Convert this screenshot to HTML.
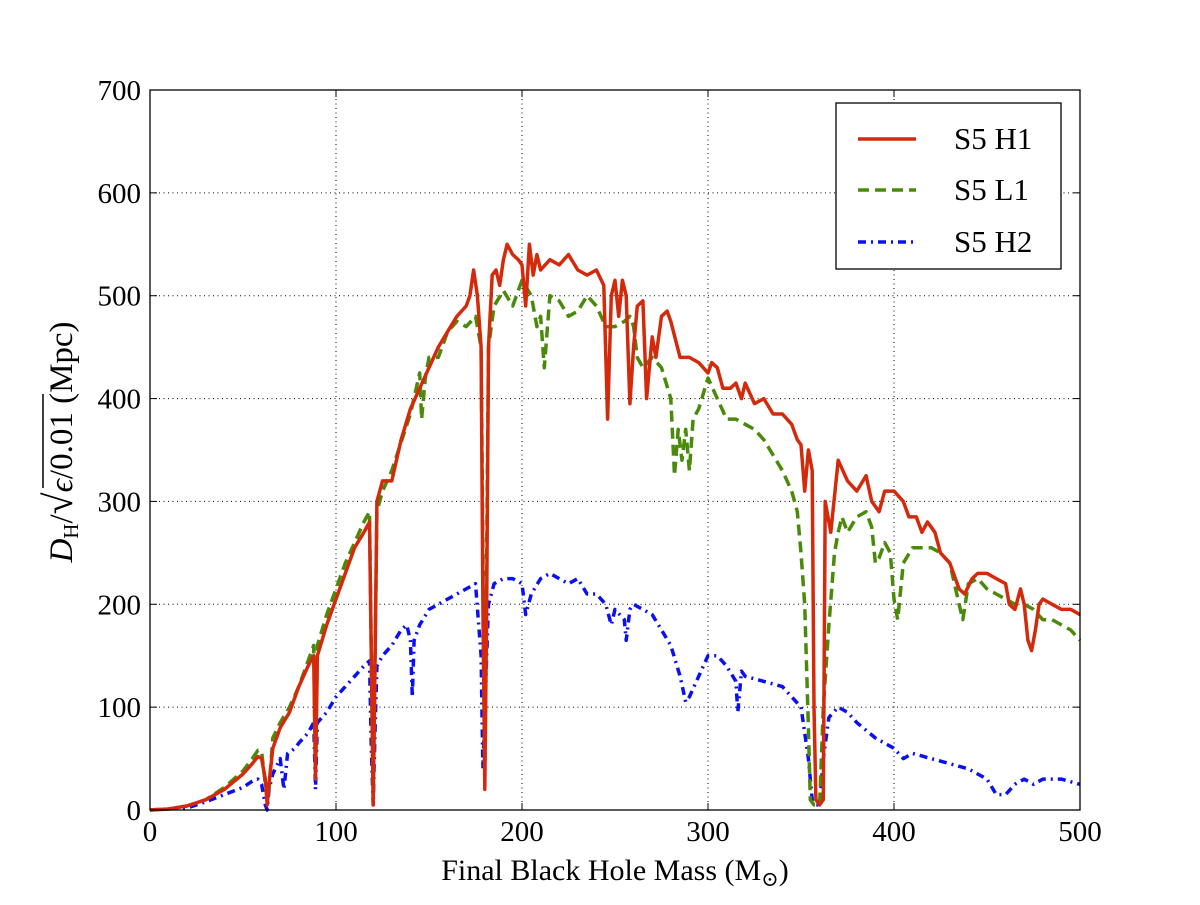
<!DOCTYPE html>
<html><head><meta charset="utf-8"><style>
html,body{margin:0;padding:0;background:#fff;}
svg text{font-family:"Liberation Serif","DejaVu Serif",serif;}
</style></head><body>
<svg id="s" width="1200" height="900" xmlns="http://www.w3.org/2000/svg">
<rect width="1200" height="900" fill="#fff"/>
<g id="grid" stroke="#000" stroke-width="1" stroke-dasharray="1,3.5"></g>
<g id="ticks" stroke="#000" stroke-width="1"></g>
<g id="lbl" font-size="29" fill="#000"></g>
<g id="series" fill="none"></g>
<rect x="150" y="90" width="930" height="720" fill="none" stroke="#000" stroke-width="1.3"/>
<g>
<rect x="836" y="103" width="225" height="166" fill="#fff" stroke="#000" stroke-width="1.3"/>
<line x1="858" y1="139" x2="916" y2="139" stroke="#d42a0c" stroke-width="3.5"/>
<line x1="858" y1="190" x2="916" y2="190" stroke="#4a8a0a" stroke-width="3.5" stroke-dasharray="11,6"/>
<line x1="858" y1="242" x2="916" y2="242" stroke="#0a10f0" stroke-width="3.5" stroke-dasharray="8,5,2,5"/>
<text x="954" y="149" font-size="31">S5 H1</text>
<text x="954" y="200" font-size="31">S5 L1</text>
<text x="954" y="252" font-size="31">S5 H2</text>
</g>
<text x="615" y="880" font-size="30" text-anchor="middle">Final Black Hole Mass (M<tspan font-size="21" dy="6">⊙</tspan><tspan dy="-6">)</tspan></text>
<g transform="translate(72,442) rotate(-90)">
<text id="yl" x="0" y="0" font-size="33" text-anchor="middle"><tspan font-style="italic">D</tspan><tspan font-size="21" dy="6">H</tspan><tspan dy="-6">/</tspan><tspan font-size="40">√</tspan><tspan font-style="italic">ϵ</tspan>/0.01 (Mpc)</text>
<line x1="-46" y1="-29" x2="48" y2="-29" stroke="#000" stroke-width="1.5"/>
</g>
</svg>
<script>
var NS="http://www.w3.org/2000/svg";
function X(m){return 150+1.86*m;} function Y(d){return 810-720/700*d;}
function el(p,t,a){var e=document.createElementNS(NS,t);for(var k in a)e.setAttribute(k,a[k]);p.appendChild(e);return e;}
var g=document.getElementById('grid'),tk=document.getElementById('ticks'),lb=document.getElementById('lbl');
for(var m=0;m<=500;m+=100){var x=X(m);if(m>0&&m<500)el(g,'line',{x1:x,y1:90,x2:x,y2:810});
el(tk,'line',{x1:x,y1:810,x2:x,y2:803});el(tk,'line',{x1:x,y1:90,x2:x,y2:97});
el(lb,'text',{x:x,y:841,'text-anchor':'middle'}).textContent=m;}
for(var d=0;d<=700;d+=100){var y=Y(d);if(d>0&&d<700)el(g,'line',{x1:150,y1:y,x2:1080,y2:y});
el(tk,'line',{x1:150,y1:y,x2:157,y2:y});el(tk,'line',{x1:1080,y1:y,x2:1073,y2:y});
el(lb,'text',{x:141,y:y+10,'text-anchor':'end'}).textContent=d;}
var H1=[0,0,10,1,20,4,30,10,40,20,50,35,55,45,58,52,60,50,62,30,63,5,64,25,66,60,70,80,75,95,80,120,85,140,88,150,89,30,90,150,95,180,100,205,105,230,110,255,115,270,118,280,119,150,120,5,121,150,122,300,125,320,130,320,135,360,140,390,145,410,150,430,155,450,160,465,165,480,170,490,172,500,174,525,176,500,178,450,179,200,180,20,181,200,182,450,184,520,186,525,188,510,190,535,192,550,195,540,198,535,200,530,202,490,204,550,206,520,208,540,210,525,215,535,220,530,225,540,230,525,235,520,240,525,244,510,246,380,248,500,250,515,252,480,254,515,256,500,258,395,260,450,262,490,265,495,267,400,270,460,272,440,275,480,278,485,280,475,285,440,290,440,295,435,300,425,302,435,305,430,308,410,312,410,315,415,318,400,320,415,325,395,330,400,335,385,340,385,345,375,348,360,350,355,352,310,354,350,356,330,357,100,358,10,360,5,362,10,363,300,366,270,370,340,375,320,380,310,385,325,388,300,392,290,395,310,400,310,405,300,408,285,412,285,415,270,418,280,422,270,425,250,430,240,435,215,438,210,442,225,445,230,450,230,455,225,460,220,462,200,465,195,468,215,470,200,472,165,474,155,476,175,478,200,480,205,485,200,490,195,495,195,500,190];
var L1=[0,0,10,1,20,4,30,10,40,22,50,38,55,50,58,58,60,57,62,25,64,20,66,70,70,85,75,100,80,120,85,145,88,160,89,35,90,160,95,190,100,215,105,240,110,260,115,280,118,290,119,150,120,10,121,150,122,290,125,310,130,330,140,385,145,425,146,380,148,420,150,440,155,440,160,465,165,475,170,470,175,480,178,450,180,40,182,450,185,490,190,505,195,490,200,515,205,500,208,470,210,480,212,430,215,500,220,495,225,480,230,485,235,500,240,490,245,470,250,470,255,475,258,480,260,470,262,440,265,430,270,440,275,430,280,400,282,325,284,370,286,340,288,370,290,330,292,380,295,390,300,420,305,400,310,380,315,380,320,375,325,370,330,360,335,345,340,330,345,310,348,290,350,250,352,200,354,80,355,10,357,5,360,5,362,100,365,180,368,250,370,270,372,285,375,270,380,285,385,290,388,275,390,240,392,245,395,260,398,250,400,205,402,185,405,240,410,255,415,255,420,255,425,250,430,240,435,200,437,185,440,220,445,225,450,215,455,210,460,205,465,200,470,200,475,195,480,185,485,185,490,180,495,175,500,165];
var H2=[0,0,20,2,30,8,40,15,50,22,55,28,58,30,60,25,62,5,63,0,64,20,66,35,70,50,72,20,74,55,78,60,80,65,85,75,88,85,89,20,90,85,95,95,100,110,105,120,110,130,115,140,118,145,119,60,120,5,121,80,122,140,125,150,130,160,135,175,138,180,140,165,141,110,142,165,145,180,150,195,155,200,160,205,165,210,170,215,175,220,178,150,179,40,181,150,182,200,185,220,190,225,195,225,200,220,202,190,205,210,210,225,215,230,220,225,225,220,230,225,235,210,240,210,245,200,248,180,250,195,255,185,256,165,258,195,260,200,270,190,275,175,280,160,285,130,288,105,290,110,295,130,300,150,305,150,310,140,315,125,316,95,318,135,320,130,330,125,340,120,345,110,350,100,354,50,356,10,358,5,360,5,362,50,365,90,370,100,375,95,380,85,390,70,400,60,405,50,410,55,420,50,430,45,440,40,445,35,450,30,455,15,460,15,465,25,470,30,475,25,480,30,490,30,500,25];
var sg=document.getElementById('series');
function pl(a,c,da){var p=[];for(var i=0;i<a.length;i+=2)p.push(X(a[i]).toFixed(1)+','+Y(a[i+1]).toFixed(1));
var o={points:p.join(' '),stroke:c,'stroke-width':3.5,'stroke-linejoin':'round',fill:'none'};if(da)o['stroke-dasharray']=da;el(sg,'polyline',o);}
pl(H2,'#0a10f0','8,5,2,5');pl(L1,'#4a8a0a','11,6');pl(H1,'#d42a0c');
</script>
</body></html>
